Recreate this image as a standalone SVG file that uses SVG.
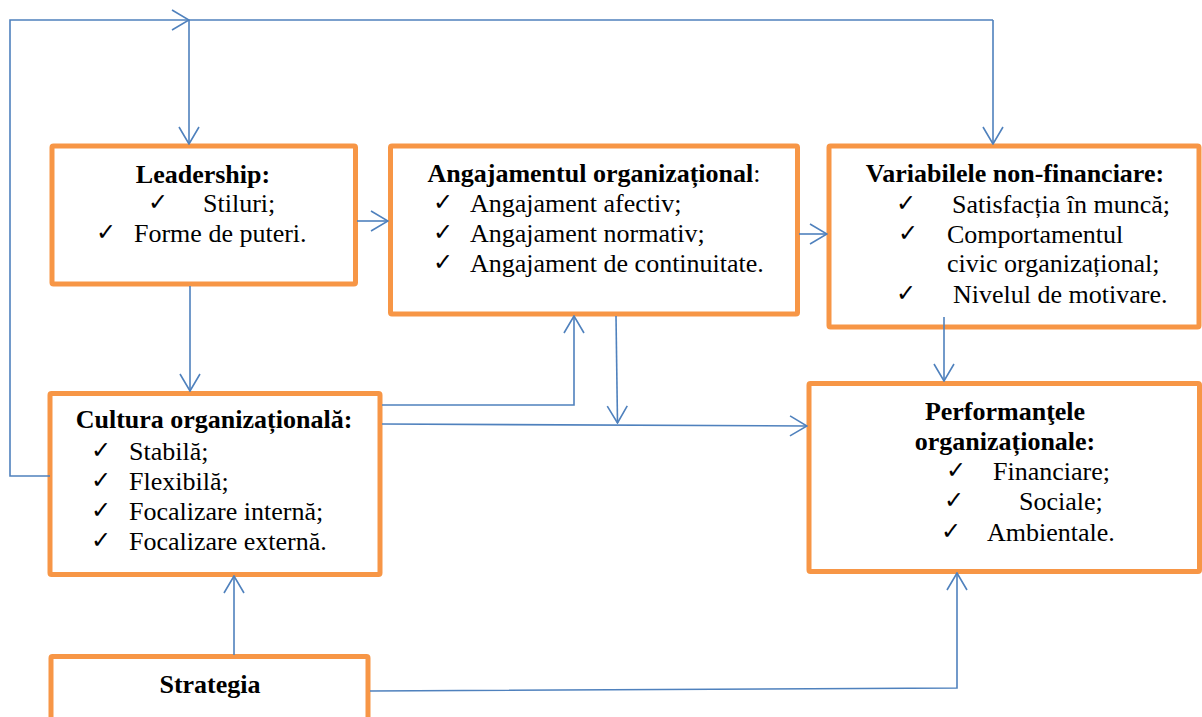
<svg xmlns="http://www.w3.org/2000/svg" width="1202" height="717" viewBox="0 0 1202 717">
  <style>
    .box { fill: #ffffff; stroke: #F79646; stroke-width: 5; }
    .t { font-family: "Liberation Serif", "Times New Roman", serif; font-size: 26px; fill: #000000; }
    .b { font-weight: bold; }
    .c { text-anchor: middle; }
    .ck { font-family: "DejaVu Sans", sans-serif; font-size: 24px; fill: #000000; }
    .ln { fill: none; stroke: #4F81BD; stroke-width: 1.6; marker-end: url(#arr); }
    .ln0 { fill: none; stroke: #4F81BD; stroke-width: 1.6; }
  </style>
  <defs>
    <marker id="arr" markerUnits="userSpaceOnUse" markerWidth="20" markerHeight="24" viewBox="-19 -12 20 24" refX="0" refY="0" orient="auto">
      <path d="M-17,-10 L0,0 L-17,10" fill="none" stroke="#4F81BD" stroke-width="1.6"/>
    </marker>
  </defs>
  <rect width="1202" height="717" fill="#ffffff"/>

  <g id="leadership">
    <rect class="box" x="52" y="146" width="303.5" height="138" rx="1.5"/>
    <text class="t b c" x="203" y="183">Leadership:</text>
    <text class="ck" x="148" y="210">✓</text>
    <text class="t" x="203" y="212">Stiluri;</text>
    <text class="ck" x="96" y="240">✓</text>
    <text class="t" x="134" y="242">Forme de puteri.</text>
  </g>

  <g id="angajamentul">
    <rect class="box" x="390.5" y="146" width="407" height="168" rx="1.5"/>
    <text class="t c" x="594" y="182"><tspan font-weight="bold">Angajamentul organizațional</tspan>:</text>
    <text class="ck" x="433" y="210">✓</text>
    <text class="t" x="470" y="212">Angajament afectiv;</text>
    <text class="ck" x="433" y="240">✓</text>
    <text class="t" x="470" y="242">Angajament normativ;</text>
    <text class="ck" x="433" y="270">✓</text>
    <text class="t" x="470" y="272">Angajament de continuitate.</text>
  </g>

  <g id="variabilele">
    <rect class="box" x="829" y="146" width="370" height="181" rx="1.5"/>
    <text class="t b c" x="1015" y="182">Variabilele non-financiare:</text>
    <text class="ck" x="896" y="211">✓</text>
    <text class="t" x="952" y="213">Satisfacția în muncă;</text>
    <text class="ck" x="898" y="241">✓</text>
    <text class="t" x="947" y="243">Comportamentul</text>
    <text class="t" x="947" y="272">civic organizațional;</text>
    <text class="ck" x="896" y="301">✓</text>
    <text class="t" x="953" y="303">Nivelul de motivare.</text>
  </g>

  <g id="cultura">
    <rect class="box" x="50" y="393.5" width="330" height="181" rx="1.5"/>
    <text class="t b c" x="214" y="428">Cultura organizațională:</text>
    <text class="ck" x="91" y="458">✓</text>
    <text class="t" x="129" y="460">Stabilă;</text>
    <text class="ck" x="91" y="488">✓</text>
    <text class="t" x="129" y="490">Flexibilă;</text>
    <text class="ck" x="91" y="518">✓</text>
    <text class="t" x="129" y="520">Focalizare internă;</text>
    <text class="ck" x="91" y="548">✓</text>
    <text class="t" x="129" y="550">Focalizare externă.</text>
  </g>

  <g id="performantele">
    <rect class="box" x="809" y="383.5" width="390.5" height="188" rx="1.5"/>
    <text class="t b c" x="1005" y="420">Performanţele</text>
    <text class="t b c" x="1005" y="450">organizaționale:</text>
    <text class="ck" x="946" y="478">✓</text>
    <text class="t" x="993" y="480">Financiare;</text>
    <text class="ck" x="944" y="508">✓</text>
    <text class="t" x="1019" y="510">Sociale;</text>
    <text class="ck" x="941" y="539">✓</text>
    <text class="t" x="987" y="541">Ambientale.</text>
  </g>

  <g id="strategia">
    <rect class="box" x="51" y="656.5" width="317" height="80" rx="1.5"/>
    <text class="t b c" x="210" y="693">Strategia</text>
  </g>

  <g id="connectors">
    <!-- feedback loop from culture back to the top rail -->
    <path class="ln" d="M50,476 H10 V20 H189"/>
    <path class="ln0" d="M189,20 H993"/>
    <path class="ln" d="M993,20 V144"/>
    <path class="ln" d="M189,20 V144"/>
    <!-- leadership -->
    <path class="ln" d="M190,286 V391"/>
    <path class="ln" d="M357,221 H388"/>
    <!-- commitment -->
    <path class="ln" d="M799,234 H827"/>
    <path class="ln" d="M616,316 L617.5,423"/>
    <!-- non-financial variables to performance -->
    <path class="ln" d="M944,317 V381"/>
    <!-- culture -->
    <path class="ln" d="M382,405 H574 V316"/>
    <path class="ln" d="M382,424 L807,426"/>
    <!-- strategy -->
    <path class="ln" d="M234,655 V576"/>
    <path class="ln" d="M370,691 L957,688 V573"/>
  </g>
</svg>
